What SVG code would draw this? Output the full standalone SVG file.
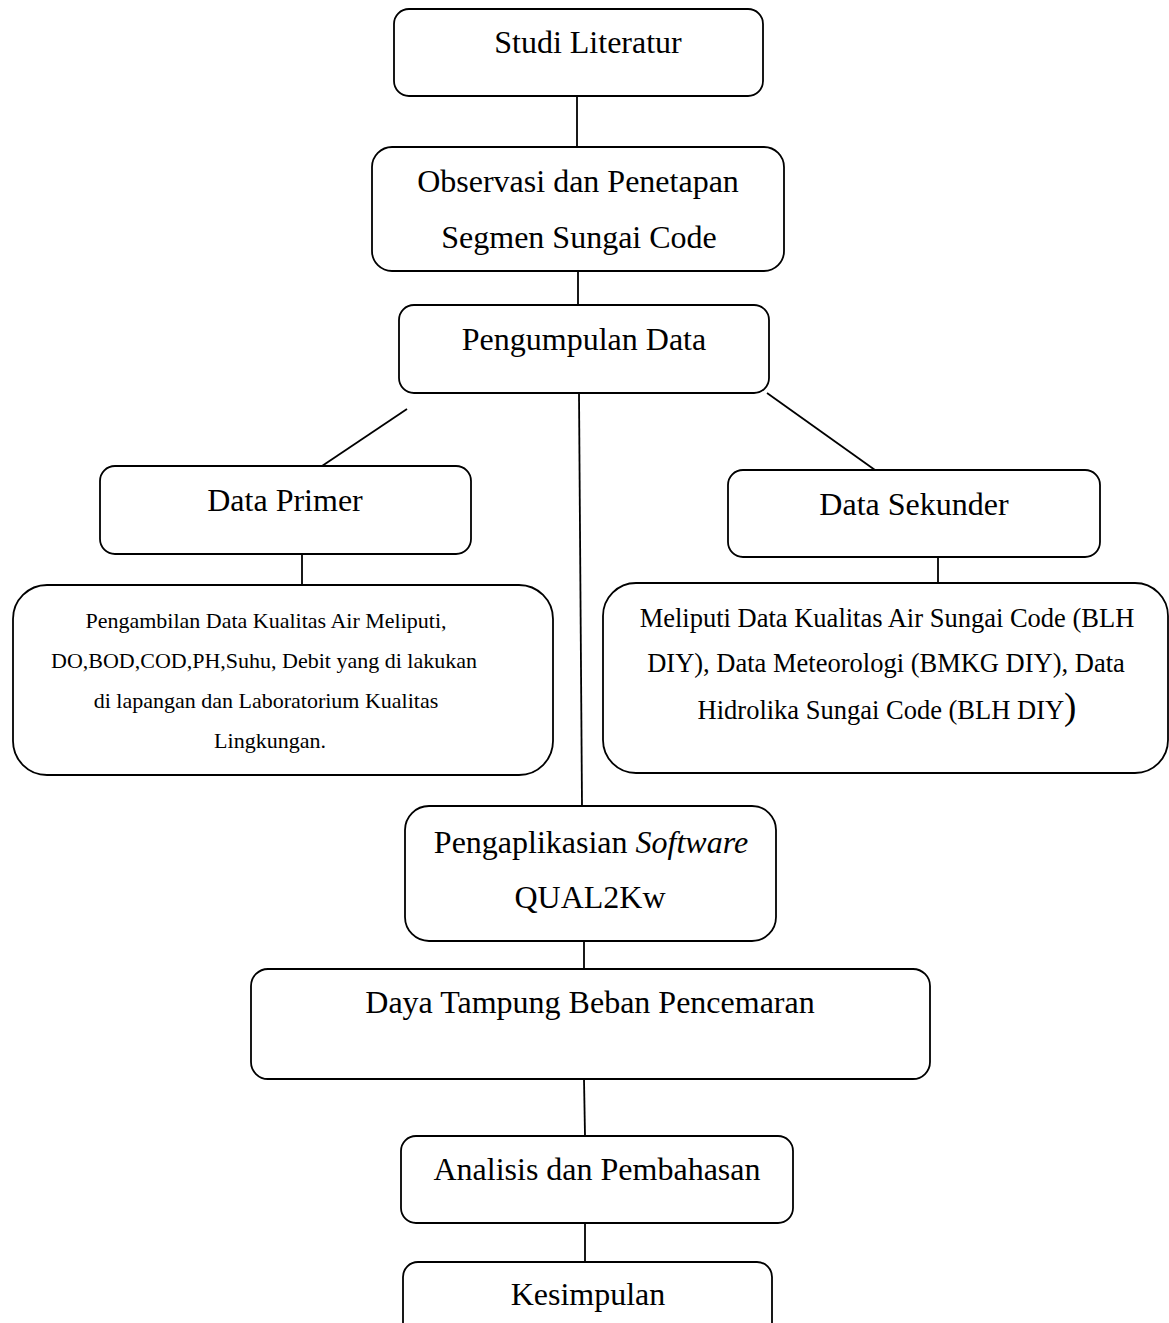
<svg xmlns="http://www.w3.org/2000/svg" width="1169" height="1323" viewBox="0 0 1169 1323">
<style>
.box{fill:#fff;stroke:#000;stroke-width:1.8}
.ln{stroke:#000;stroke-width:1.8;fill:none}
.t{font-family:"Liberation Serif","Times New Roman",serif;fill:#000;text-anchor:middle}
.big{font-size:32px}
.s1{font-size:22px}
.s2{font-size:26.5px}
</style>
<rect width="1169" height="1323" fill="#fff"/>
<g id="connectors">
<line class="ln" x1="577" y1="96" x2="577" y2="147"/>
<line class="ln" x1="578" y1="271" x2="578" y2="305"/>
<line class="ln" x1="407" y1="409" x2="322" y2="466"/>
<line class="ln" x1="579" y1="393" x2="582" y2="806"/>
<line class="ln" x1="767" y1="393" x2="875" y2="470"/>
<line class="ln" x1="302" y1="554" x2="302" y2="585"/>
<line class="ln" x1="938" y1="557" x2="938" y2="583"/>
<line class="ln" x1="584" y1="941" x2="584" y2="969"/>
<line class="ln" x1="584" y1="1079" x2="585" y2="1136"/>
<line class="ln" x1="585" y1="1223" x2="585" y2="1262"/>
</g>
<g id="studi">
<rect class="box" x="394" y="9" width="369" height="87" rx="15"/>
<text class="t big" x="588" y="53">Studi Literatur</text>
</g>
<g id="observasi">
<rect class="box" x="372" y="147" width="412" height="124" rx="20"/>
<text class="t big" x="578" y="192">Observasi dan Penetapan</text>
<text class="t big" x="579" y="248">Segmen Sungai Code</text>
</g>
<g id="pengumpulan">
<rect class="box" x="399" y="305" width="370" height="88" rx="15"/>
<text class="t big" x="584" y="350">Pengumpulan Data</text>
</g>
<g id="primer">
<rect class="box" x="100" y="466" width="371" height="88" rx="15"/>
<text class="t big" x="285" y="511">Data Primer</text>
</g>
<g id="sekunder">
<rect class="box" x="728" y="470" width="372" height="87" rx="15"/>
<text class="t big" x="914" y="515">Data Sekunder</text>
</g>
<g id="primer-detail">
<rect class="box" x="13" y="585" width="540" height="190" rx="34"/>
<text class="t s1" x="266" y="628">Pengambilan Data Kualitas Air Meliputi,</text>
<text class="t s1" x="264" y="668">DO,BOD,COD,PH,Suhu, Debit yang di lakukan</text>
<text class="t s1" x="266" y="708">di lapangan dan Laboratorium Kualitas</text>
<text class="t s1" x="270" y="748">Lingkungan.</text>
</g>
<g id="sekunder-detail">
<rect class="box" x="603" y="583" width="565" height="190" rx="33"/>
<text class="t s2" x="887" y="627">Meliputi Data Kualitas Air Sungai Code (BLH</text>
<text class="t s2" x="886" y="672">DIY), Data Meteorologi (BMKG DIY), Data</text>
<text class="t s2" x="887" y="719">Hidrolika Sungai Code (BLH DIY<tspan font-size="37px">)</tspan></text>
</g>
<g id="software">
<rect class="box" x="405" y="806" width="371" height="135" rx="24"/>
<text class="t big" x="591" y="853">Pengaplikasian <tspan font-style="italic">Software</tspan></text>
<text class="t big" x="590" y="908">QUAL2Kw</text>
</g>
<g id="daya">
<rect class="box" x="251" y="969" width="679" height="110" rx="17"/>
<text class="t big" x="590" y="1013">Daya Tampung Beban Pencemaran</text>
</g>
<g id="analisis">
<rect class="box" x="401" y="1136" width="392" height="87" rx="15"/>
<text class="t big" x="597" y="1180">Analisis dan Pembahasan</text>
</g>
<g id="kesimpulan">
<rect class="box" x="403" y="1262" width="369" height="90" rx="15"/>
<text class="t big" x="588" y="1305">Kesimpulan</text>
</g>
</svg>
